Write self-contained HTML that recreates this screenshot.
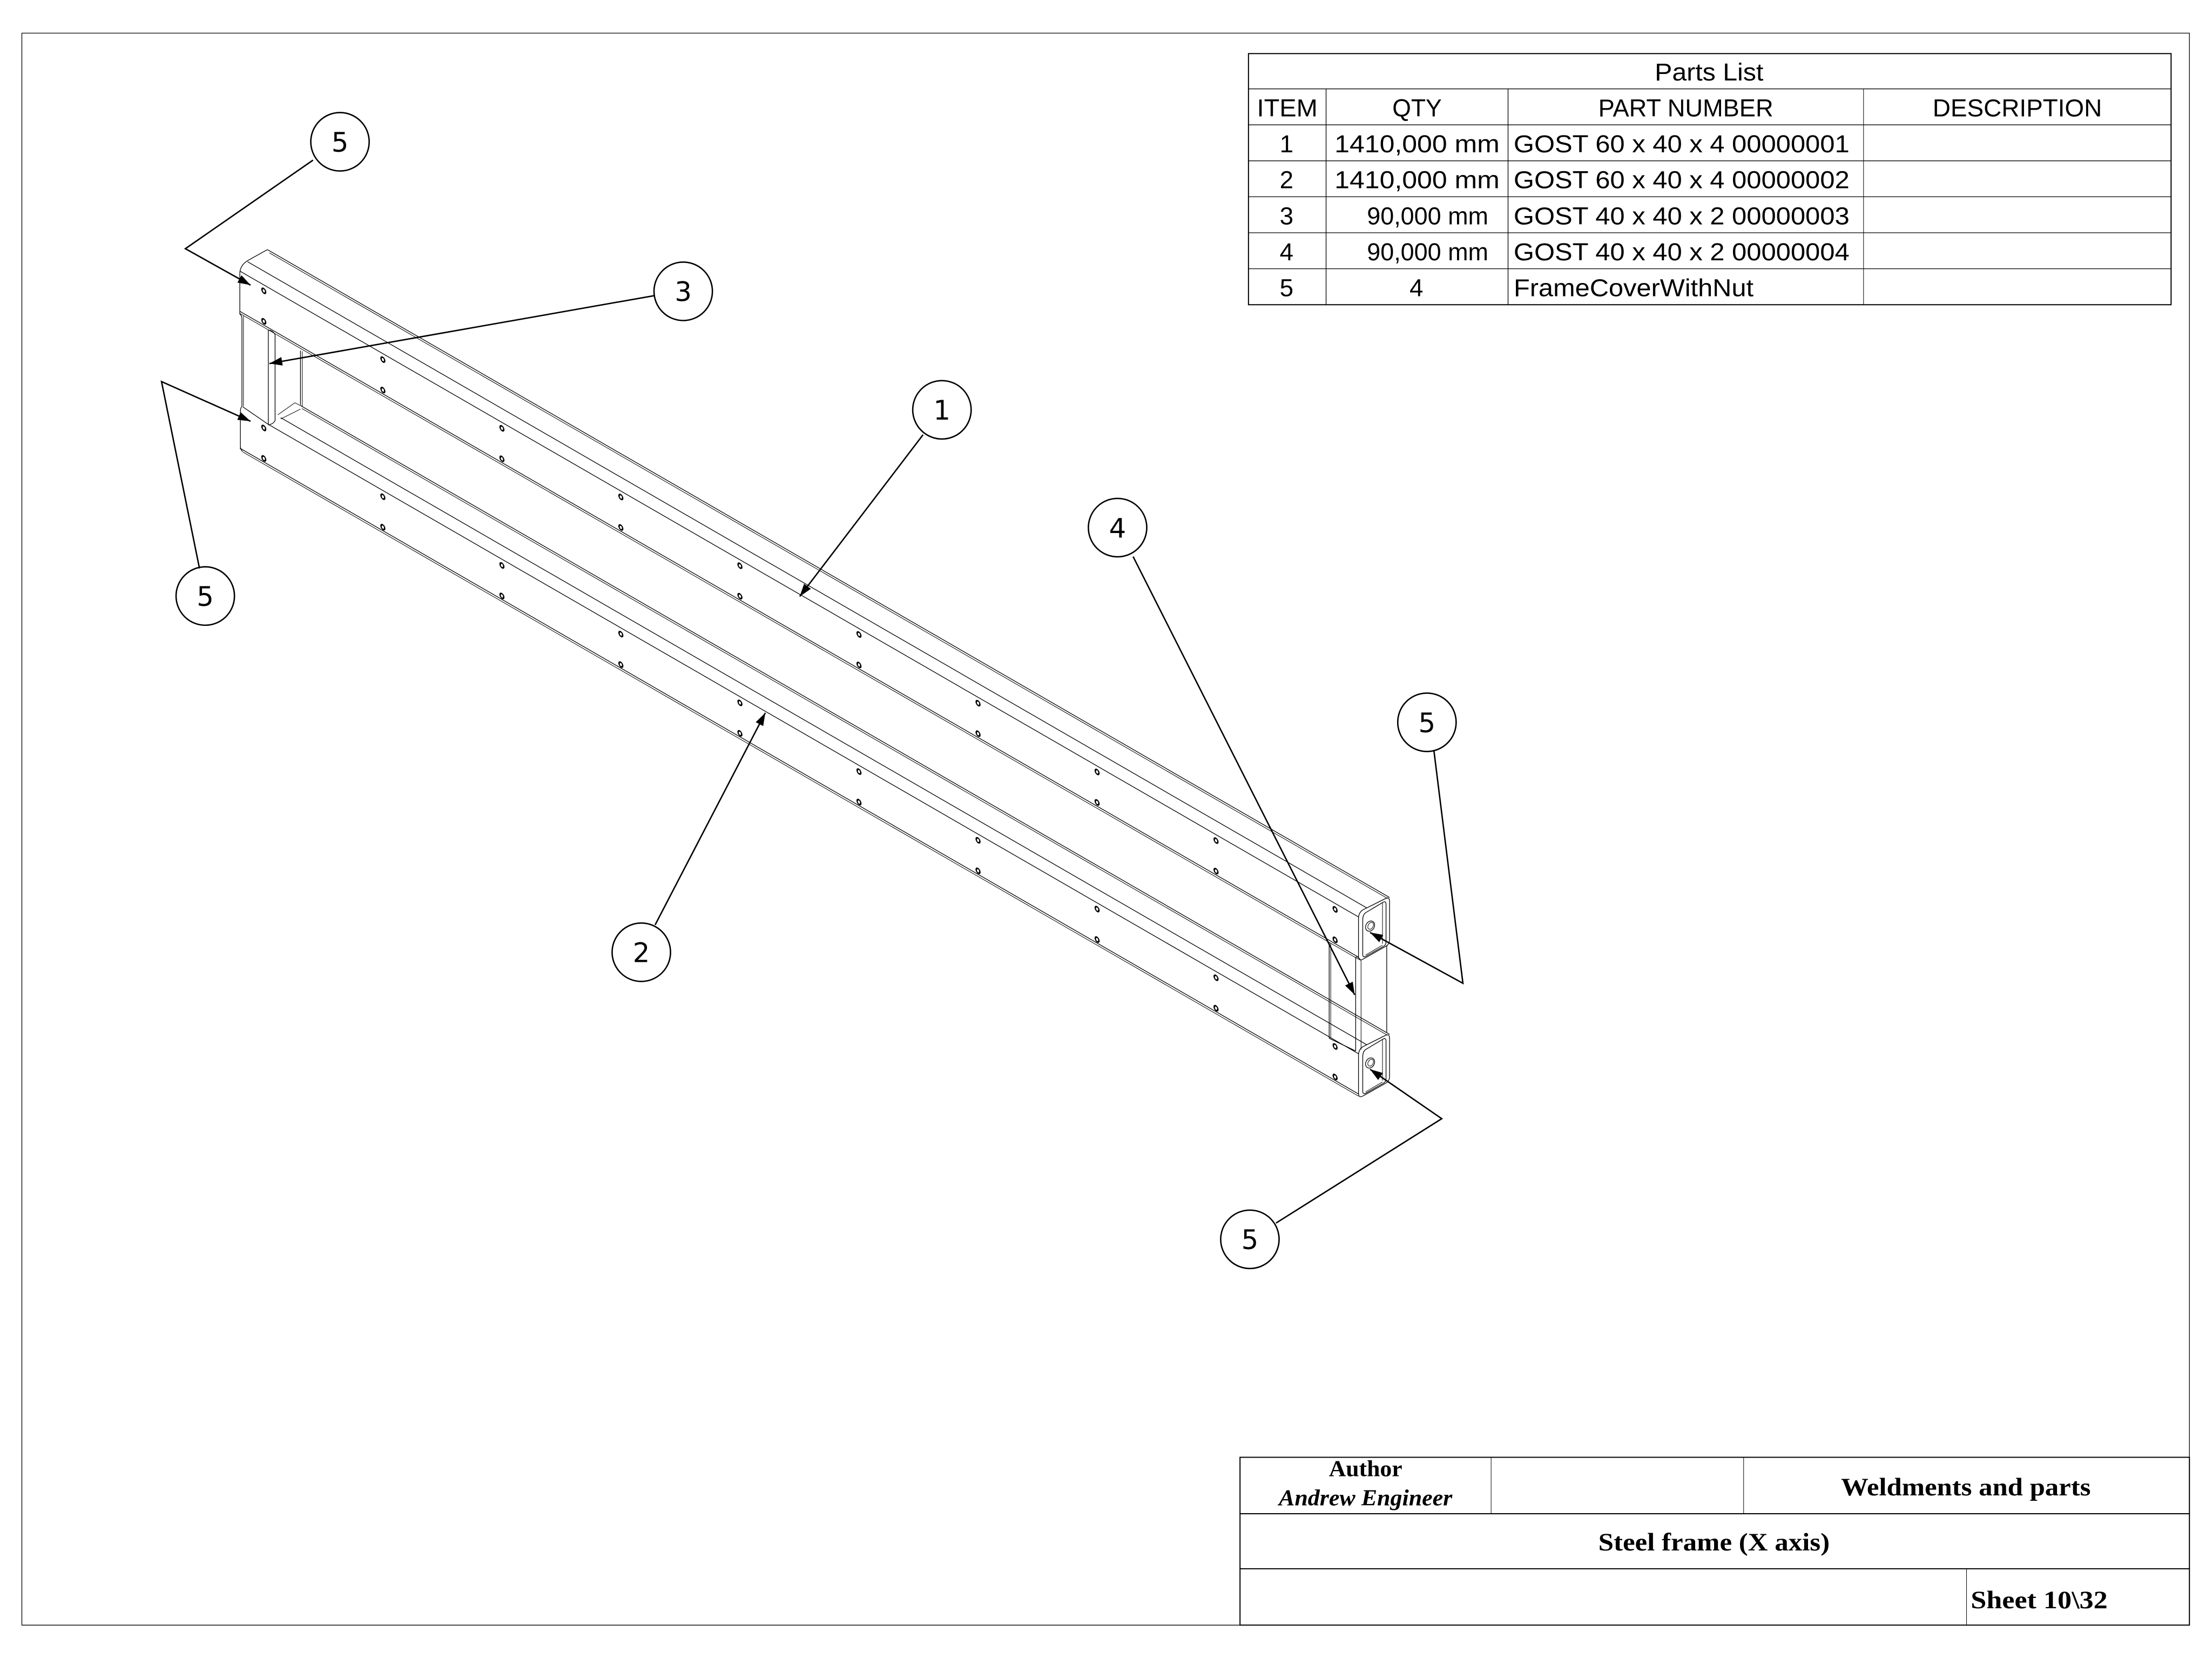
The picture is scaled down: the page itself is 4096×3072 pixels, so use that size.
<!DOCTYPE html>
<html><head><meta charset="utf-8"><style>
html,body{margin:0;padding:0;background:#fff;}
svg{display:block;}
.l{stroke:#000;fill:none;stroke-width:1.3px;vector-effect:non-scaling-stroke;}
.t{stroke:#000;fill:none;stroke-width:1px;vector-effect:non-scaling-stroke;}
.c{stroke:#000;fill:none;stroke-width:1.1px;vector-effect:non-scaling-stroke;}
.b{stroke:#000;fill:none;stroke-width:2px;vector-effect:non-scaling-stroke;}
.tx{font-family:"Liberation Sans","DejaVu Sans",sans-serif;font-size:17.5px;fill:#000;}
.bn{font-family:"DejaVu Sans","Liberation Sans",sans-serif;font-size:19px;fill:#000;text-anchor:middle;}
.sf{font-family:"Liberation Serif",serif;font-weight:bold;fill:#000;}
</style></head><body>
<svg width="4096" height="3072" viewBox="0 0 1568 1176" xmlns="http://www.w3.org/2000/svg">
<rect x="0" y="0" width="1568" height="1176" fill="#fff"/>
<rect class="l" x="15.5" y="23.5" width="1536.5" height="1128.5"/>

<g>
<rect class="b" x="885" y="38" width="654" height="178"/>
<line class="l" x1="885" y1="63" x2="1539" y2="63"/>
<line class="l" x1="885" y1="88.5" x2="1539" y2="88.5"/>
<line class="l" x1="885" y1="114" x2="1539" y2="114"/>
<line class="l" x1="885" y1="139.5" x2="1539" y2="139.5"/>
<line class="l" x1="885" y1="165" x2="1539" y2="165"/>
<line class="l" x1="885" y1="190.5" x2="1539" y2="190.5"/>
<line class="l" x1="940" y1="63" x2="940" y2="216"/>
<line class="l" x1="1069" y1="63" x2="1069" y2="216"/>
<line class="t" x1="1321" y1="63" x2="1321" y2="216"/>
<text class="tx" x="1173" y="57" textLength="77" lengthAdjust="spacingAndGlyphs">Parts List</text>
<text class="tx" x="891" y="82.5" textLength="43" lengthAdjust="spacingAndGlyphs">ITEM</text>
<text class="tx" x="987" y="82.5" textLength="35" lengthAdjust="spacingAndGlyphs">QTY</text>
<text class="tx" x="1133" y="82.5" textLength="124" lengthAdjust="spacingAndGlyphs">PART NUMBER</text>
<text class="tx" x="1370" y="82.5" textLength="120" lengthAdjust="spacingAndGlyphs">DESCRIPTION</text>
<text class="tx" x="912" y="108" text-anchor="middle">1</text>
<text class="tx" x="912" y="133.5" text-anchor="middle">2</text>
<text class="tx" x="912" y="159" text-anchor="middle">3</text>
<text class="tx" x="912" y="184.5" text-anchor="middle">4</text>
<text class="tx" x="912" y="210" text-anchor="middle">5</text>
<text class="tx" x="946" y="108" textLength="117" lengthAdjust="spacingAndGlyphs">1410,000 mm</text>
<text class="tx" x="946" y="133.5" textLength="117" lengthAdjust="spacingAndGlyphs">1410,000 mm</text>
<text class="tx" x="969" y="159" textLength="86" lengthAdjust="spacingAndGlyphs">90,000 mm</text>
<text class="tx" x="969" y="184.5" textLength="86" lengthAdjust="spacingAndGlyphs">90,000 mm</text>
<text class="tx" x="1004" y="210" text-anchor="middle">4</text>
<text class="tx" x="1073" y="108" textLength="238" lengthAdjust="spacingAndGlyphs">GOST 60 x 40 x 4 00000001</text>
<text class="tx" x="1073" y="133.5" textLength="238" lengthAdjust="spacingAndGlyphs">GOST 60 x 40 x 4 00000002</text>
<text class="tx" x="1073" y="159" textLength="238" lengthAdjust="spacingAndGlyphs">GOST 40 x 40 x 2 00000003</text>
<text class="tx" x="1073" y="184.5" textLength="238" lengthAdjust="spacingAndGlyphs">GOST 40 x 40 x 2 00000004</text>
<text class="tx" x="1073" y="210" textLength="170" lengthAdjust="spacingAndGlyphs">FrameCoverWithNut</text>
</g>

<g>
<rect class="b" x="879" y="1033" width="673" height="119"/>
<line class="b" x1="879" y1="1073" x2="1552" y2="1073"/>
<line class="b" x1="879" y1="1112" x2="1552" y2="1112"/>
<line class="t" x1="1057" y1="1033" x2="1057" y2="1073"/>
<line class="t" x1="1236" y1="1033" x2="1236" y2="1073"/>
<line class="t" x1="1394" y1="1112" x2="1394" y2="1152"/>
<text class="sf" x="968" y="1046.5" font-size="16" text-anchor="middle" textLength="52" lengthAdjust="spacingAndGlyphs">Author</text>
<text class="sf" x="968" y="1067" font-size="16" font-style="italic" text-anchor="middle" textLength="123" lengthAdjust="spacingAndGlyphs">Andrew Engineer</text>
<text class="sf" x="1305" y="1060" font-size="18" textLength="177" lengthAdjust="spacingAndGlyphs">Weldments and parts</text>
<text class="sf" x="1133" y="1099" font-size="18" textLength="164" lengthAdjust="spacingAndGlyphs">Steel frame (X axis)</text>
<text class="sf" x="1397" y="1140" font-size="18" textLength="97" lengthAdjust="spacingAndGlyphs">Sheet  10\32</text>
</g>

<g transform="matrix(1,0.57735,0,1,0,0)">
  <line class="l" x1="189.5" y1="67.5" x2="985" y2="67.5"/>
  <line class="t" x1="191" y1="69" x2="983.5" y2="69"/>
  <line class="l" x1="175.5" y1="84.2" x2="969" y2="84.2"/>
  <line class="l" x1="170" y1="94" x2="963" y2="94"/>
  <line class="l" x1="170" y1="122.5" x2="963" y2="122.5"/>
  <line class="t" x1="170" y1="124" x2="963" y2="124"/>
  <line class="l" x1="213" y1="164.5" x2="985" y2="164.5"/>
  <line class="t" x1="214" y1="166" x2="983.5" y2="166"/>
  <line class="l" x1="199" y1="181.2" x2="969" y2="181.2"/>
  <line class="l" x1="190" y1="191" x2="963" y2="191"/>
  <line class="l" x1="172" y1="189" x2="190" y2="191"/>
  <line class="l" x1="170" y1="219.5" x2="963" y2="219.5"/>
  <line class="t" x1="172" y1="221" x2="963" y2="221"/>
  <g class="t">
    <ellipse cx="187" cy="98.2" rx="1.3" ry="1.6"/><ellipse cx="187" cy="119.8" rx="1.3" ry="1.6"/>
    <ellipse cx="271.4" cy="98.2" rx="1.3" ry="1.6"/><ellipse cx="271.4" cy="119.8" rx="1.3" ry="1.6"/>
    <ellipse cx="355.8" cy="98.2" rx="1.3" ry="1.6"/><ellipse cx="355.8" cy="119.8" rx="1.3" ry="1.6"/>
    <ellipse cx="440.1" cy="98.2" rx="1.3" ry="1.6"/><ellipse cx="440.1" cy="119.8" rx="1.3" ry="1.6"/>
    <ellipse cx="524.5" cy="98.2" rx="1.3" ry="1.6"/><ellipse cx="524.5" cy="119.8" rx="1.3" ry="1.6"/>
    <ellipse cx="608.9" cy="98.2" rx="1.3" ry="1.6"/><ellipse cx="608.9" cy="119.8" rx="1.3" ry="1.6"/>
    <ellipse cx="693.3" cy="98.2" rx="1.3" ry="1.6"/><ellipse cx="693.3" cy="119.8" rx="1.3" ry="1.6"/>
    <ellipse cx="777.7" cy="98.2" rx="1.3" ry="1.6"/><ellipse cx="777.7" cy="119.8" rx="1.3" ry="1.6"/>
    <ellipse cx="862" cy="98.2" rx="1.3" ry="1.6"/><ellipse cx="862" cy="119.8" rx="1.3" ry="1.6"/>
    <ellipse cx="946.4" cy="98.2" rx="1.3" ry="1.6"/><ellipse cx="946.4" cy="119.8" rx="1.3" ry="1.6"/>
    <ellipse cx="187" cy="195.4" rx="1.3" ry="1.6"/><ellipse cx="187" cy="217" rx="1.3" ry="1.6"/>
    <ellipse cx="271.4" cy="195.4" rx="1.3" ry="1.6"/><ellipse cx="271.4" cy="217" rx="1.3" ry="1.6"/>
    <ellipse cx="355.8" cy="195.4" rx="1.3" ry="1.6"/><ellipse cx="355.8" cy="217" rx="1.3" ry="1.6"/>
    <ellipse cx="440.1" cy="195.4" rx="1.3" ry="1.6"/><ellipse cx="440.1" cy="217" rx="1.3" ry="1.6"/>
    <ellipse cx="524.5" cy="195.4" rx="1.3" ry="1.6"/><ellipse cx="524.5" cy="217" rx="1.3" ry="1.6"/>
    <ellipse cx="608.9" cy="195.4" rx="1.3" ry="1.6"/><ellipse cx="608.9" cy="217" rx="1.3" ry="1.6"/>
    <ellipse cx="693.3" cy="195.4" rx="1.3" ry="1.6"/><ellipse cx="693.3" cy="217" rx="1.3" ry="1.6"/>
    <ellipse cx="777.7" cy="195.4" rx="1.3" ry="1.6"/><ellipse cx="777.7" cy="217" rx="1.3" ry="1.6"/>
    <ellipse cx="862" cy="195.4" rx="1.3" ry="1.6"/><ellipse cx="862" cy="217" rx="1.3" ry="1.6"/>
    <ellipse cx="946.4" cy="195.4" rx="1.3" ry="1.6"/><ellipse cx="946.4" cy="217" rx="1.3" ry="1.6"/>
  </g>
</g>

<path class="l" d="M189.5,177 L176,184.5 Q170,188 170,194 L170,222.7"/>
<path class="l" d="M170,222.7 Q171.5,223.5 171.5,226 L171.5,288"/>
<line class="t" x1="172.6" y1="224" x2="172.6" y2="288"/>
<path class="l" d="M171.5,288 Q170.4,289 170.4,292 L170.4,316 Q170.4,319 172,320"/>
<path class="l" d="M190.2,234 L190.2,301.2"/>
<path class="l" d="M190.2,234 Q193,234 195,237 L195,298 Q194,300.5 190.2,301.2"/>
<line class="l" x1="213" y1="248.5" x2="213" y2="287"/>
<line class="t" x1="214.3" y1="249" x2="214.3" y2="288"/>
<path class="t" d="M197,294 L209,285.5 L214,288"/>
<path class="t" d="M199,297 L213,290"/>
<line class="l" x1="942.2" y1="668" x2="942.2" y2="736"/>
<line class="t" x1="943.3" y1="668.5" x2="943.3" y2="736"/>
<line class="l" x1="961" y1="678.4" x2="961" y2="745"/>
<line class="t" x1="964.8" y1="681" x2="964.8" y2="744"/>
<path class="t" d="M961,678.4 Q963,678 964.8,681"/>
<line class="l" x1="983" y1="670" x2="983" y2="732"/>
<line class="l" x1="942.2" y1="736" x2="961" y2="745"/>

<g id="ef">
<path class="l" d="M963,651 L963,678 Q963,681.5 966,680 L982,671 Q985,669.5 985,666 L985,639 Q985,635.5 982,637 L966,645 Q963,647 963,651 Z"/>
<path class="l" d="M966,652 L966,676.5 Q966,679 968,678 L980.5,671 Q982.5,670 982.5,667.5 L982.5,641 Q982.5,638.5 980.5,639.5 L968,647 Q966,648.5 966,652 Z"/>
<line class="t" x1="980" y1="640" x2="980" y2="669"/>
<path class="t" d="M968,677 L980,670"/>
<ellipse class="l" cx="971.2" cy="656.5" rx="3" ry="3.8" transform="rotate(30 971.2 656.5)"/>
<ellipse class="t" cx="971.6" cy="656.3" rx="1.8" ry="2.6" transform="rotate(30 971.6 656.3)"/>
</g>
<use href="#ef" transform="translate(0,97)"/>

<g class="t">
<circle cx="241" cy="100.5" r="20.7"/>
<circle cx="484.3" cy="206.5" r="20.7"/>
<circle cx="667.7" cy="290.5" r="20.7"/>
<circle cx="792.2" cy="374" r="20.7"/>
<circle cx="145.5" cy="422.5" r="20.7"/>
<circle cx="1011.5" cy="512" r="20.7"/>
<circle cx="454.6" cy="675" r="20.7"/>
<circle cx="886" cy="878.5" r="20.7"/>
</g>
<g class="t">
<polyline points="221.9,113.5 131.4,176.3 177.6,202.1"/>
<polyline points="141.4,402.9 114.5,270.5 177.6,298.6"/>
<line x1="463.6" y1="209.6" x2="191" y2="257.7"/>
<line x1="654.3" y1="308.2" x2="566.9" y2="422.8"/>
<line x1="464.4" y1="655.6" x2="542.5" y2="505.3"/>
<line x1="803.2" y1="394.5" x2="960.3" y2="705.2"/>
<polyline points="1016.5,532.5 1037,697 971.2,661"/>
<polyline points="904.5,867 1022,793 971.2,758"/>
</g>
<g fill="#000">
<polygon points="177.6,202.1 168.3,200.3 171.2,195.1"/>
<polygon points="177.6,298.6 168.2,297.6 170.6,292.2"/>
<polygon points="191,257.7 199.4,253.1 200.4,259.1"/>
<polygon points="566.9,422.8 574.8,417.4 570,413.8"/>
<polygon points="542.5,505.3 541,514.7 535.7,511.9"/>
<polygon points="960.3,705.2 953.5,698.6 958.9,695.9"/>
<polygon points="971.2,661 980.5,662.7 977.7,667.9"/>
<polygon points="971.2,758 980.3,760.6 976.9,765.6"/>
</g>
<text class="bn" x="241" y="107.5">5</text>
<text class="bn" x="484.3" y="213.5">3</text>
<text class="bn" x="667.7" y="297.5">1</text>
<text class="bn" x="792.2" y="381">4</text>
<text class="bn" x="145.5" y="429.5">5</text>
<text class="bn" x="1011.5" y="519">5</text>
<text class="bn" x="454.6" y="682">2</text>
<text class="bn" x="886" y="885.5">5</text>
</svg>
</body></html>
